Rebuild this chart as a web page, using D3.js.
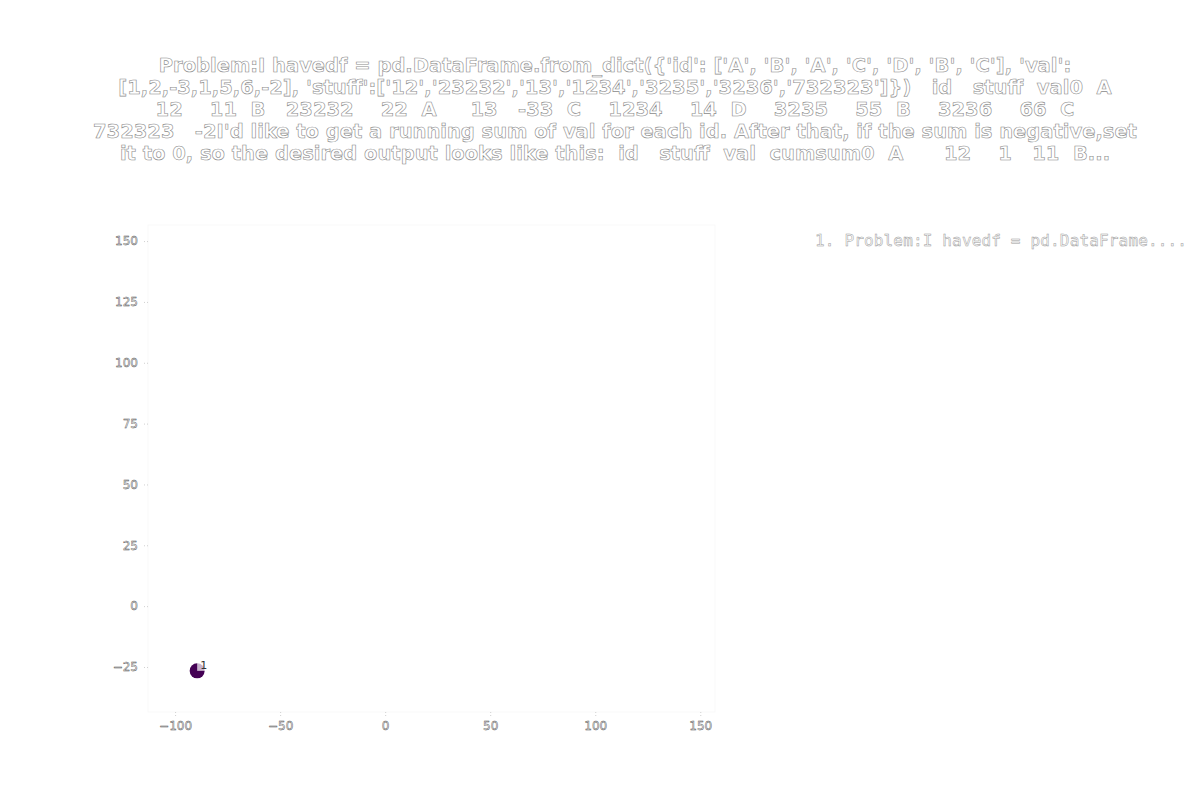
<!DOCTYPE html>
<html><head><meta charset="utf-8">
<script src="https://cdn.jsdelivr.net/npm/d3@7"></script>
<style>
html,body{margin:0;padding:0;background:#fff;}
svg{display:block;}
text{white-space:pre;}
</style></head>
<body>
<svg id="chart" width="1200" height="800"></svg>
<script>
const titleLines = [
  "Problem:I havedf = pd.DataFrame.from_dict({'id': ['A', 'B', 'A', 'C', 'D', 'B', 'C'], 'val':",
  "[1,2,-3,1,5,6,-2], 'stuff':['12','23232','13','1234','3235','3236','732323']})   id   stuff  val0  A",
  "12    11  B   23232    22  A     13   -33  C    1234    14  D    3235    55  B    3236    66  C",
  "732323   -2I'd like to get a running sum of val for each id. After that, if the sum is negative,set",
  "it to 0, so the desired output looks like this:  id   stuff  val  cumsum0  A      12    1   11  B..."
];
const pointX = [-89.5];
const pointY = [-26.6];
const pointLabels = ["1"];
const legendLabels = ["1. Problem:I havedf = pd.DataFrame...."];
const xTicks = [-100, -50, 0, 50, 100, 150];
const yTicks = [-25, 0, 25, 50, 75, 100, 125, 150];

(function(){
const svg = d3.select("#chart");
const pL = 148, pR = 715, pT = 225, pB = 712;
const x = d3.scaleLinear().domain([-112.9, 157]).range([pL, pR]);
const y = d3.scaleLinear().domain([-43.5, 156.6]).range([pB, pT]);

svg.append("rect").attr("x", pL).attr("y", pT).attr("width", pR-pL).attr("height", pB-pT)
  .attr("fill", "none").attr("stroke", "#f9f9f9").attr("stroke-width", 1);

const fmt = d => (d < 0 ? "\u2212" + Math.abs(d) : String(d));

const xAxis = svg.append("g").attr("transform", `translate(0,${pB})`)
  .call(d3.axisBottom(x).tickValues(xTicks).tickFormat(fmt).tickSize(4).tickPadding(5));
const yAxis = svg.append("g").attr("transform", `translate(${pL},0)`)
  .call(d3.axisLeft(y).tickValues(yTicks).tickFormat(fmt).tickSize(4).tickPadding(6));
[xAxis, yAxis].forEach(a => {
  a.select(".domain").remove();
  a.selectAll(".tick line").attr("stroke", "#d0d0d0").attr("stroke-dasharray", "1,2");
  a.selectAll(".tick text").attr("font-family", "DejaVu Sans").attr("font-size", 12)
    .attr("fill", "#fafafa").attr("stroke", "#4a4a4a").attr("stroke-width", 0.45);
});

const title = svg.append("text").attr("x", 615).attr("y", 72)
  .attr("text-anchor", "middle").attr("font-family", "DejaVu Sans").attr("font-weight", "bold")
  .attr("font-size", 19.5).attr("fill", "#fff").attr("stroke", "#8a8a8a").attr("stroke-width", 0.6);
title.selectAll("tspan").data(titleLines).join("tspan")
  .attr("x", 615).attr("dy", (d, i) => i === 0 ? 0 : 22).text(d => d);

const pts = pointX.map((v, i) => ({x: v, y: pointY[i], label: pointLabels[i]}));
svg.selectAll("circle.pt").data(pts).join("circle").attr("class", "pt")
  .attr("cx", d => x(d.x)).attr("cy", d => y(d.y)).attr("r", 7.5).attr("fill", "#440154");
svg.selectAll("rect.lb").data(pts).join("rect").attr("class", "lb")
  .attr("x", d => x(d.x)).attr("y", d => y(d.y) - 11).attr("width", 8).attr("height", 11)
  .attr("fill", "#fff").attr("opacity", 0.7);
svg.selectAll("text.lbl").data(pts).join("text").attr("class", "lbl")
  .attr("x", d => x(d.x) + 3).attr("y", d => y(d.y) - 2)
  .attr("font-family", "DejaVu Sans").attr("font-size", 11).attr("fill", "#333").text(d => d.label);

svg.selectAll("text.leg").data(legendLabels).join("text").attr("class", "leg")
  .attr("x", 815).attr("y", (d, i) => 246 + i * 20)
  .attr("font-family", "DejaVu Sans Mono").attr("font-size", 16)
  .attr("textLength", 372).attr("lengthAdjust", "spacing")
  .attr("fill", "#fff").attr("stroke", "#999").attr("stroke-width", 0.5).text(d => d);
})();
</script>
</body></html>
